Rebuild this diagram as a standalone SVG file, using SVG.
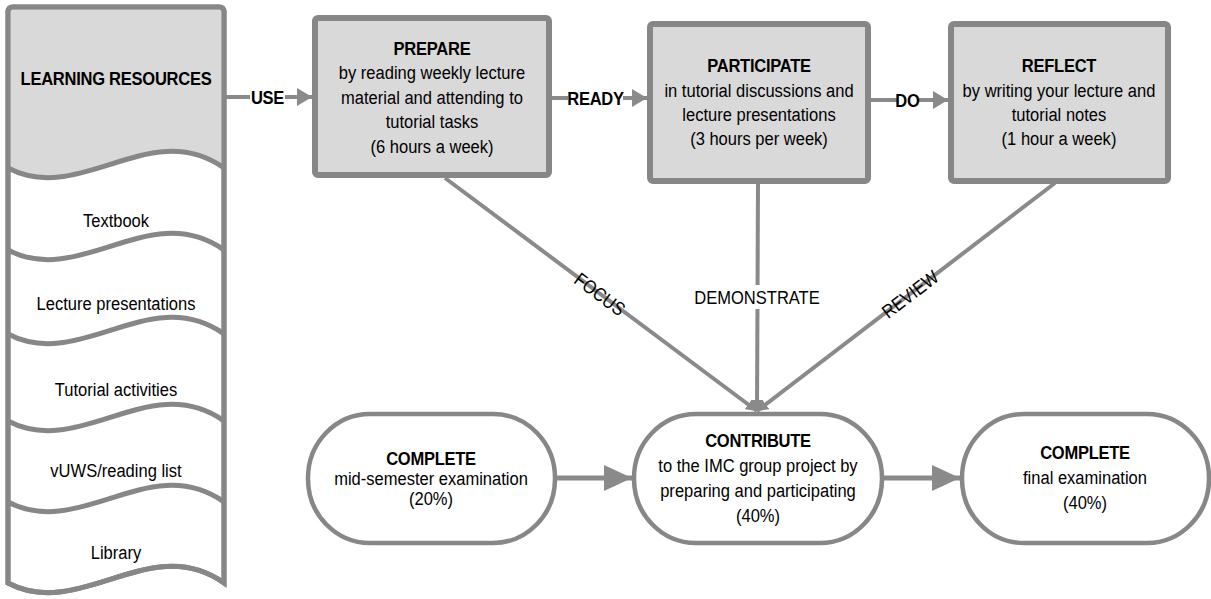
<svg xmlns="http://www.w3.org/2000/svg" width="1211" height="599" viewBox="0 0 1211 599">
<defs>
<style>
.t{font-family:"Liberation Sans",Arial,sans-serif;font-size:19px;fill:#000;text-anchor:middle}
.b{font-weight:bold;letter-spacing:-0.3px}
.box{fill:#d9d9d9;stroke:#878787;stroke-width:6}
.pill{fill:#fff;stroke:#878787;stroke-width:4.5}
.ln{stroke:#8a8a8a;stroke-width:4;fill:none}
.lnb{stroke:#8a8a8a;stroke-width:5;fill:none}
.wave{stroke:#878787;stroke-width:5;fill:none}
.bg{fill:#fff}
</style>
<marker id="ah" markerUnits="userSpaceOnUse" markerWidth="16" markerHeight="18" refX="15" refY="9" orient="auto"><path d="M0,0 L15,9 L0,18 Z" fill="#8a8a8a"/></marker>
<marker id="ahs" markerUnits="userSpaceOnUse" markerWidth="12" markerHeight="12" refX="11" refY="6" orient="auto"><path d="M0,0 L11,6 L0,12 Z" fill="#8a8a8a"/></marker>
<marker id="ahl" markerUnits="userSpaceOnUse" markerWidth="29" markerHeight="26" refX="28" refY="13" orient="auto"><path d="M0,0 L28,13 L0,26 Z" fill="#8a8a8a"/></marker>
</defs>
<rect width="1211" height="599" fill="#fff"/>

<g id="connectors">
<line class="ln" x1="224" y1="97" x2="312" y2="97" marker-end="url(#ah)"/>
<line class="ln" x1="551" y1="98" x2="647" y2="98" marker-end="url(#ah)"/>
<line class="ln" x1="870" y1="100" x2="948" y2="100" marker-end="url(#ah)"/>
<line class="ln" x1="445" y1="178" x2="757" y2="411" marker-end="url(#ahs)"/>
<line class="ln" x1="758" y1="183" x2="757" y2="411" marker-end="url(#ahs)"/>
<line class="ln" x1="1055" y1="183" x2="757" y2="411" marker-end="url(#ahs)"/>
<line class="lnb" x1="556" y1="478" x2="632" y2="478" marker-end="url(#ahl)"/>
<line class="lnb" x1="884" y1="478" x2="960" y2="478" marker-end="url(#ahl)"/>
<rect class="bg" x="250" y="88" width="35" height="19"/>
<text class="t b" transform="translate(267.5,104) scale(0.87,1)">USE</text>
<rect class="bg" x="568" y="89" width="55" height="19"/>
<text class="t b" transform="translate(595.5,105) scale(0.87,1)">READY</text>
<rect class="bg" x="898" y="91" width="19" height="19"/>
<text class="t b" transform="translate(907.5,107) scale(0.87,1)">DO</text>
<text class="t" transform="translate(600,294) rotate(36.7) scale(0.87,1)" dy="7">FOCUS</text>
<rect class="bg" x="692" y="285" width="131" height="24"/>
<text class="t" transform="translate(757,304) scale(0.87,1)">DEMONSTRATE</text>
<text class="t" transform="translate(910,294) rotate(-37.4) scale(0.87,1)" dy="7">REVIEW</text>
</g>

<g id="learning-resources">
<path d="M8,12 Q8,7 13,7 L219,7 Q224,7 224,12 L224,583 C150,531 80,621 8,583 Z" fill="#fff" stroke="#878787" stroke-width="5"/>
<path d="M10.5,12 Q10.5,9.5 13,9.5 L219,9.5 Q221.5,9.5 221.5,12 L221.5,168 C150,116 80,206 10.5,168 Z" fill="#d9d9d9"/>
<path class="wave" d="M8,168 C80,206 150,116 224,168"/>
<path class="wave" d="M8,250 C80,288 150,198 224,250"/>
<path class="wave" d="M8,334 C80,372 150,282 224,334"/>
<path class="wave" d="M8,421 C80,459 150,369 224,421"/>
<path class="wave" d="M8,502 C80,540 150,450 224,502"/>
<path d="M8,12 Q8,7 13,7 L219,7 Q224,7 224,12 L224,583 C150,531 80,621 8,583 Z" fill="none" stroke="#878787" stroke-width="5"/>
<text class="t b" transform="translate(116,85) scale(0.87,1)">LEARNING RESOURCES</text>
<text class="t" transform="translate(116,227) scale(0.87,1)">Textbook</text>
<text class="t" transform="translate(116,310) scale(0.87,1)">Lecture presentations</text>
<text class="t" transform="translate(116,396) scale(0.87,1)">Tutorial activities</text>
<text class="t" transform="translate(116,477) scale(0.87,1)">vUWS/reading list</text>
<text class="t" transform="translate(116,559) scale(0.87,1)">Library</text>
</g>

<g id="prepare">
<rect class="box" x="315" y="18" width="234" height="157" rx="3"/>
<text class="t b" transform="translate(432,55) scale(0.87,1)">PREPARE</text>
<text class="t" transform="translate(432,79) scale(0.87,1)">by reading weekly lecture</text>
<text class="t" transform="translate(432,104) scale(0.87,1)">material and attending to</text>
<text class="t" transform="translate(432,128) scale(0.87,1)">tutorial tasks</text>
<text class="t" transform="translate(432,153) scale(0.87,1)">(6 hours a week)</text>
</g>

<g id="participate">
<rect class="box" x="650" y="24" width="218" height="157" rx="3"/>
<text class="t b" transform="translate(759,72) scale(0.87,1)">PARTICIPATE</text>
<text class="t" transform="translate(759,97) scale(0.87,1)">in tutorial discussions and</text>
<text class="t" transform="translate(759,121) scale(0.87,1)">lecture presentations</text>
<text class="t" transform="translate(759,145) scale(0.87,1)">(3 hours per week)</text>
</g>

<g id="reflect">
<rect class="box" x="951" y="24" width="217" height="157" rx="3"/>
<text class="t b" transform="translate(1059,72) scale(0.87,1)">REFLECT</text>
<text class="t" transform="translate(1059,97) scale(0.87,1)">by writing your lecture and</text>
<text class="t" transform="translate(1059,121) scale(0.87,1)">tutorial notes</text>
<text class="t" transform="translate(1059,145) scale(0.87,1)">(1 hour a week)</text>
</g>

<g id="complete-mid">
<rect class="pill" x="308" y="414" width="247" height="129" rx="62" ry="64"/>
<text class="t b" transform="translate(431,465) scale(0.87,1)">COMPLETE</text>
<text class="t" transform="translate(431,485) scale(0.87,1)">mid-semester examination</text>
<text class="t" transform="translate(431,505) scale(0.87,1)">(20%)</text>
</g>

<g id="contribute">
<rect class="pill" x="634" y="414" width="248" height="129" rx="62" ry="64"/>
<text class="t b" transform="translate(758,447) scale(0.87,1)">CONTRIBUTE</text>
<text class="t" transform="translate(758,472) scale(0.87,1)">to the IMC group project by</text>
<text class="t" transform="translate(758,497) scale(0.87,1)">preparing and participating</text>
<text class="t" transform="translate(758,522) scale(0.87,1)">(40%)</text>
</g>

<g id="complete-final">
<rect class="pill" x="962" y="414" width="247" height="129" rx="62" ry="64"/>
<text class="t b" transform="translate(1085,459) scale(0.87,1)">COMPLETE</text>
<text class="t" transform="translate(1085,484) scale(0.87,1)">final examination</text>
<text class="t" transform="translate(1085,509) scale(0.87,1)">(40%)</text>
</g>
</svg>
